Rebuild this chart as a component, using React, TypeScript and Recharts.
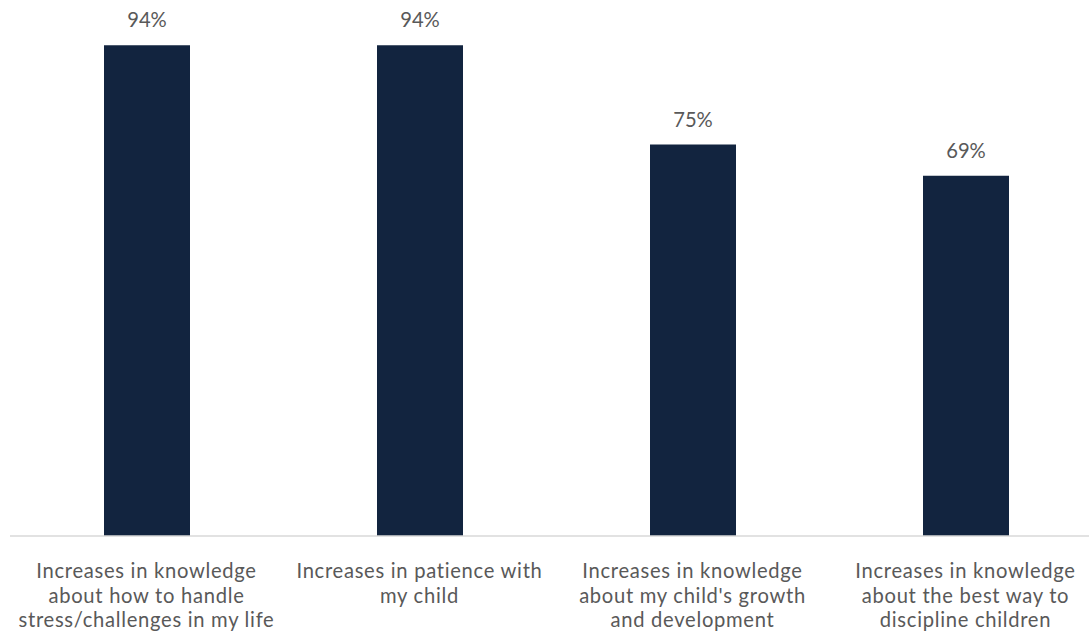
import { Bar, BarChart, LabelList, XAxis, YAxis } from "recharts";

const CATEGORIES = [
  "Increases in knowledge\nabout how to handle\nstress/challenges in my life",
  "Increases in patience with\nmy child",
  "Increases in knowledge\nabout my child's growth\nand development",
  "Increases in knowledge\nabout the best way to\ndiscipline children",
];
const VALUES = [0.94, 0.94, 0.75, 0.69];

const BAR_COLOR = "#12243f";
const TEXT_COLOR = "#595959";
const FONT = "Lato, 'Open Sans', sans-serif";
const FONT_SIZE = 20.2;

const data = CATEGORIES.map((name, i) => ({ name, value: VALUES[i] }));

// category names carry their own line breaks, as in the source chart
function CategoryTick({ x, y, payload }: any) {
  const lines = String(payload.value).split("\n");
  return (
    <text
      x={x}
      y={y}
      textAnchor="middle"
      fill={TEXT_COLOR}
      fontFamily={FONT}
      fontSize={FONT_SIZE}
      letterSpacing={0.7}
    >
      {lines.map((line, i) => (
        <tspan key={i} x={x} dy={i === 0 ? 34 : 24.5}>
          {line}
        </tspan>
      ))}
    </text>
  );
}

export default function App() {
  return (
    <div
      style={{
        position: "absolute",
        left: 0,
        top: 0,
        width: 1089,
        height: 639,
        overflow: "hidden",
        background: "#fff",
      }}
    >
      <BarChart
        width={1102}
        height={639}
        data={data}
        margin={{ top: 14, right: 0, bottom: 0, left: 10 }}
        barCategoryGap={0}
        barSize={86}
      >
        <XAxis
          dataKey="name"
          interval={0}
          axisLine={{ stroke: "#d9d9d9", strokeWidth: 1.5 }}
          tickLine={false}
          height={103}
          tick={<CategoryTick />}
        />
        <YAxis hide domain={[0, 1]} />
        <Bar dataKey="value" fill={BAR_COLOR} isAnimationActive={false}>
          <LabelList
            dataKey="value"
            position="top"
            offset={18}
            formatter={(v: any) => `${Math.round(v * 100)}%`}
            fill={TEXT_COLOR}
            fontFamily={FONT}
            fontSize={FONT_SIZE}
          />
        </Bar>
      </BarChart>
    </div>
  );
}
